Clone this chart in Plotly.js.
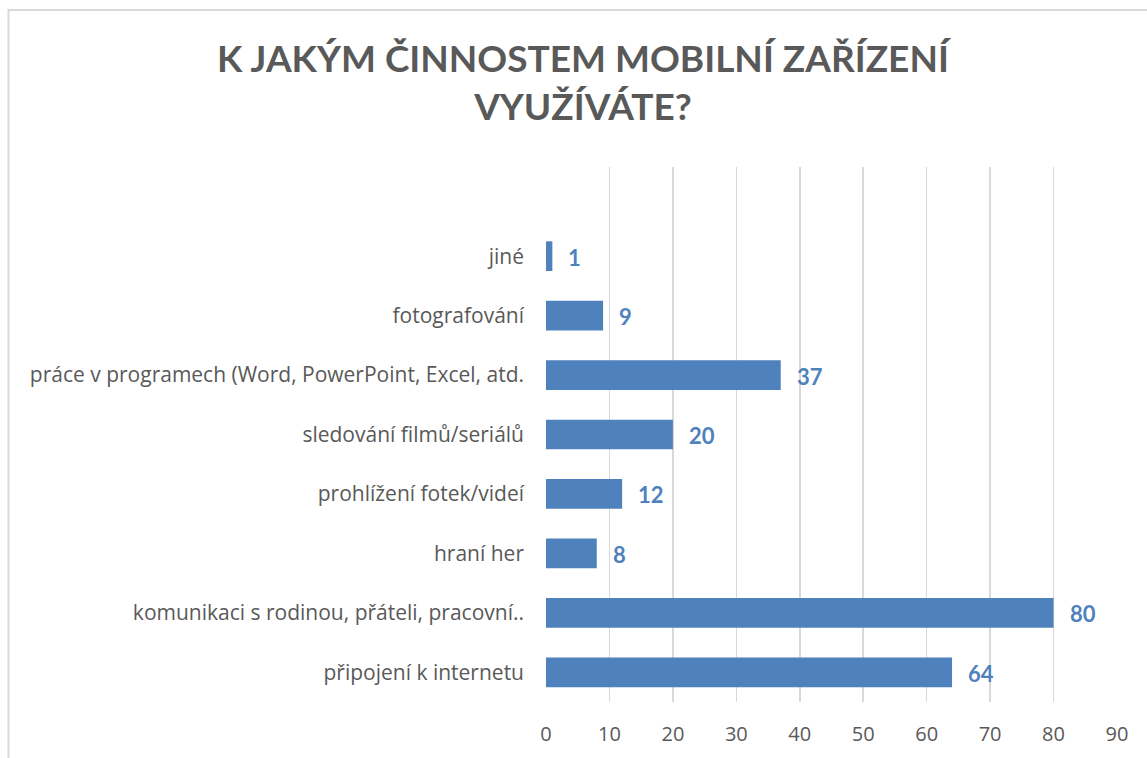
<!DOCTYPE html>
<html>
<head>
<meta charset="utf-8">
<script src="https://cdn.plot.ly/plotly-3.0.1.min.js"></script>
<style>
html,body{margin:0;padding:0;background:#fff;}
#chart{width:1147px;height:758px;}
</style>
</head>
<body>
<div id="chart"></div>
<script>
const categories = [
  "připojení k internetu",
  "komunikaci s rodinou, přáteli, pracovní..",
  "hraní her",
  "prohlížení fotek/videí",
  "sledování filmů/seriálů",
  "práce v programech (Word, PowerPoint, Excel, atd.",
  "fotografování",
  "jiné"
];
const values = [64, 80, 8, 12, 20, 37, 9, 1];
const xTicks = [0, 10, 20, 30, 40, 50, 60, 70, 80, 90];

const W = 1147, H = 758;
const mL = 546, mR = 29.5, mT = 167, mB = 56;
const pw = W - mL - mR, ph = H - mT - mB;
const bx0 = (8 - mL) / pw, by1 = 1 + (mT - 10) / ph;

const trace = {
  type: "bar",
  orientation: "h",
  x: values,
  y: categories,
  width: 0.5,
  marker: {color: "#4F81BD", line: {width: 0}},
  hoverinfo: "skip"
};

const annotations = values.map((v, i) => ({
  x: v, y: categories[i], xref: "x", yref: "y",
  text: "<b>" + v + "</b>", showarrow: false,
  xanchor: "left", yanchor: "middle", xshift: 14, yshift: -1,
  font: {family: "Lato, 'Open Sans', sans-serif", size: 22, color: "#4F81BD"}
}));

const layout = {
  width: W, height: H,
  margin: {l: mL, r: mR, t: mT, b: mB, pad: 0},
  paper_bgcolor: "#ffffff",
  plot_bgcolor: "#ffffff",
  showlegend: false,
  title: {
    text: "<b>K JAKÝM ČINNOSTEM MOBILNÍ ZAŘÍZENÍ<br>VYUŽÍVÁTE?</b>",
    x: 583 / W, xref: "container", xanchor: "center",
    y: 1 - 72 / H, yref: "container", yanchor: "top",
    font: {family: "Lato, 'Open Sans', sans-serif", size: 37, color: "#595959"}
  },
  xaxis: {
    range: [0, 90],
    tickvals: xTicks,
    ticktext: xTicks.map(String),
    showgrid: true, gridcolor: "#d9d9d9", gridwidth: 1.5,
    zeroline: false, showline: false, ticks: "",
    ticklabelstandoff: 18,
    tickfont: {family: "'Open Sans', sans-serif", size: 20, color: "#595959"},
    fixedrange: true
  },
  yaxis: {
    type: "category",
    categoryorder: "array", categoryarray: categories,
    range: [-0.5, 8.5],
    showgrid: false, zeroline: false, showline: false, ticks: "",
    ticklabelstandoff: 21,
    tickfont: {family: "'Open Sans', sans-serif", size: 21, color: "#595959"},
    fixedrange: true
  },
  annotations: annotations,
  shapes: [{
    type: "rect", xref: "paper", yref: "paper",
    x0: bx0, x1: 1.2, y0: -0.3, y1: by1,
    line: {color: "#d9d9d9", width: 2}, fillcolor: "rgba(0,0,0,0)", layer: "below"
  }]
};

Plotly.newPlot("chart", [trace], layout, {displayModeBar: false, staticPlot: true});
</script>
</body>
</html>
